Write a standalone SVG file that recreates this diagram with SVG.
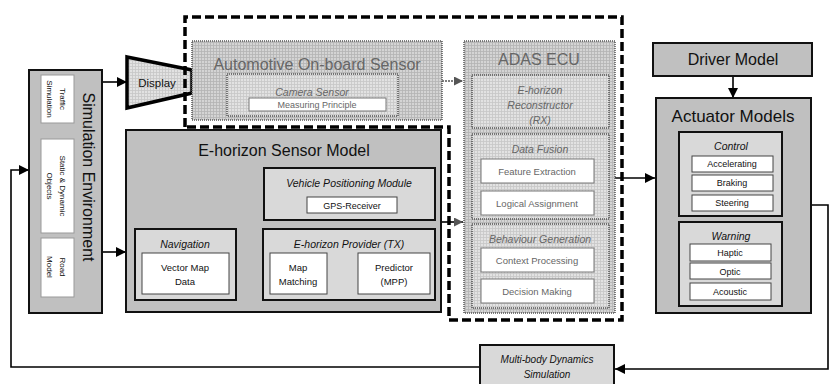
<svg xmlns="http://www.w3.org/2000/svg" width="830" height="384" viewBox="0 0 830 384">
<defs>
<pattern id="gridA" width="3" height="3" patternUnits="userSpaceOnUse">
<rect width="3" height="3" fill="#d4d4d4"/>
<path d="M0 0.5H3M0.5 0V3" stroke="#b4b4b4" stroke-width="0.8"/>
</pattern>
<pattern id="gridB" width="3" height="3" patternUnits="userSpaceOnUse">
<rect width="3" height="3" fill="#e2e2e2"/>
<path d="M0 0.5H3M0.5 0V3" stroke="#c6c6c6" stroke-width="0.8"/>
</pattern>
<marker id="ah" viewBox="0 0 10 10" refX="10" refY="5" markerWidth="10" markerHeight="10" markerUnits="userSpaceOnUse" orient="auto">
<path d="M0 0L10 5L0 10z" fill="#000"/>
</marker>
<marker id="ahg" viewBox="0 0 10 10" refX="10" refY="5" markerWidth="9" markerHeight="9" markerUnits="userSpaceOnUse" orient="auto">
<path d="M0 0L10 5L0 10z" fill="#555"/>
</marker>
</defs>
<style>
text{font-family:"Liberation Sans",Arial,sans-serif;fill:#111;text-anchor:middle}
.big{font-size:16px}
.it{font-style:italic;font-size:10.5px}
.sm{font-size:9px}
.xs{font-size:8px}
.gray{fill:#c0c0c0;stroke:#111;stroke-width:2}
.lg{fill:#d9d9d9;stroke:#111;stroke-width:2}
.wh{fill:#fff;stroke:#444;stroke-width:1}
.whs{fill:#fff;stroke:#999;stroke-width:1}
.ga{fill:url(#gridA);stroke:#555;stroke-width:1.5;stroke-dasharray:1 1}
.gb{fill:url(#gridB);stroke:#555;stroke-width:1.5;stroke-dasharray:1 1}
.ft{fill:#666}
.wf{fill:#fff;stroke:#777;stroke-width:1}
.c{fill:none;stroke:#000;stroke-width:1.6}
</style>

<g id="connectors">
<path class="c" d="M102 82H127" marker-end="url(#ah)"/>
<path class="c" d="M102 252H126" marker-end="url(#ah)"/>
<path class="c" d="M480 367H11V170H29" marker-end="url(#ah)"/>
<path class="c" d="M811 205H828V369H615" marker-end="url(#ah)"/>
<path class="c" d="M615 178H655" marker-end="url(#ah)"/>
<path class="c" d="M733 76V98" marker-end="url(#ah)"/>
<path class="c" d="M441 222H463" marker-end="url(#ahg)"/>
<path d="M442 81H463" fill="none" stroke="#555" stroke-width="1.5" stroke-dasharray="2 1" marker-end="url(#ahg)"/>
<path class="c" d="M236 282H263" marker-end="url(#ah)"/>
<path class="c" d="M264 193H247V263H263" marker-end="url(#ah)"/>
<path class="c" d="M327 275H358" marker-end="url(#ah)"/>
</g>

<g id="sim-env">
<rect class="gray" x="29" y="70" width="73" height="243"/>
<text class="big" transform="translate(83,177) rotate(90)">Simulation Environment</text>
<rect class="whs" x="41" y="75" width="33" height="48"/>
<text class="xs" transform="translate(60,99) rotate(90)"><tspan x="0" y="0">Traffic</tspan><tspan x="0" y="13">Simulation</tspan></text>
<rect class="whs" x="41" y="139" width="33" height="94"/>
<text class="xs" transform="translate(60,186) rotate(90)"><tspan x="0" y="0">Static &amp; Dynamic</tspan><tspan x="0" y="13">Objects</tspan></text>
<rect class="whs" x="41" y="238" width="33" height="59"/>
<text class="xs" transform="translate(60,267) rotate(90)"><tspan x="0" y="0">Road</tspan><tspan x="0" y="13">Model</tspan></text>
</g>

<g id="display">
<path d="M127 57L192 70V93L127 108Z" fill="url(#gridB)" stroke="#000" stroke-width="3.5" stroke-linejoin="miter"/>
<text x="157" y="87" style="font-size:11.5px">Display</text>
</g>

<g id="dashed-region">
<path d="M185 127V17H622V320H449V127Z" fill="none" stroke="#000" stroke-width="3.5" stroke-dasharray="9 4"/>
</g>

<g id="onboard-sensor">
<rect class="ga" x="192" y="41" width="250" height="79"/>
<text class="big ft" x="317" y="70">Automotive On-board Sensor</text>
<rect class="gb" x="227" y="74" width="171" height="42"/>
<text class="it ft" x="312" y="96">Camera Sensor</text>
<rect class="wf" x="249" y="98" width="137" height="13"/>
<text class="sm ft" x="317" y="108">Measuring Principle</text>
</g>

<g id="adas-ecu">
<rect class="ga" x="464" y="41" width="151" height="272"/>
<text class="big ft" x="539" y="65">ADAS ECU</text>
<rect class="gb" x="472" y="75" width="137" height="53"/>
<text class="it ft" x="540" y="94"><tspan x="540" y="94">E-horizon</tspan><tspan x="540" y="109">Reconstructor</tspan><tspan x="540" y="124">(RX)</tspan></text>
<rect class="gb" x="472" y="134" width="137" height="85"/>
<text class="it ft" x="540" y="153">Data Fusion</text>
<rect class="wf" x="481" y="159" width="113" height="24"/>
<text class="sm ft" x="537" y="175" style="font-size:9.5px">Feature Extraction</text>
<rect class="wf" x="481" y="191" width="113" height="24"/>
<text class="sm ft" x="537" y="207" style="font-size:9.5px">Logical Assignment</text>
<rect class="gb" x="472" y="224" width="137" height="84"/>
<text class="it ft" x="540" y="243">Behaviour Generation</text>
<rect class="wf" x="481" y="248" width="113" height="24"/>
<text class="sm ft" x="537" y="264" style="font-size:9.5px">Context Processing</text>
<rect class="wf" x="481" y="279" width="113" height="24"/>
<text class="sm ft" x="537" y="295" style="font-size:9.5px">Decision Making</text>
</g>

<g id="ehorizon-sensor-model">
<rect class="gray" x="126" y="130" width="315" height="182"/>
<text class="big" x="284" y="156">E-horizon Sensor Model</text>
<rect class="lg" x="264" y="168" width="171" height="52"/>
<text class="it" x="349" y="187">Vehicle Positioning Module</text>
<rect class="wh" x="307" y="197" width="90" height="16"/>
<text class="sm" x="352" y="208.5">GPS-Receiver</text>
<rect class="lg" x="135" y="229" width="101" height="71"/>
<text class="it" x="185" y="248">Navigation</text>
<rect class="wh" x="142" y="253" width="87" height="41"/>
<text class="sm" x="185" y="271" style="font-size:9.5px"><tspan x="185" y="271">Vector Map</tspan><tspan x="185" y="285">Data</tspan></text>
<rect class="lg" x="263" y="229" width="172" height="71"/>
<text class="it" x="349" y="248">E-horizon Provider (TX)</text>
<rect class="wh" x="270" y="253" width="57" height="41"/>
<text class="sm" x="298" y="271" style="font-size:9.5px"><tspan x="298" y="271">Map</tspan><tspan x="298" y="285">Matching</tspan></text>
<rect class="wh" x="358" y="253" width="72" height="41"/>
<text class="sm" x="394" y="271" style="font-size:9.5px"><tspan x="394" y="271">Predictor</tspan><tspan x="394" y="285">(MPP)</tspan></text>
</g>

<g id="driver-model">
<rect class="gray" x="653" y="43" width="159" height="33"/>
<text class="big" x="733" y="65">Driver Model</text>
</g>

<g id="actuator-models">
<rect class="gray" x="656" y="98" width="155" height="215"/>
<text class="big" x="733" y="122" style="font-size:17px">Actuator Models</text>
<rect class="lg" x="679" y="132" width="103" height="84"/>
<text class="it" x="731" y="150">Control</text>
<rect class="wh" x="692" y="156" width="81" height="16"/>
<text class="sm" x="732" y="167">Accelerating</text>
<rect class="wh" x="692" y="175" width="81" height="16"/>
<text class="sm" x="732" y="186">Braking</text>
<rect class="wh" x="692" y="195" width="81" height="16"/>
<text class="sm" x="732" y="206">Steering</text>
<rect class="lg" x="679" y="222" width="103" height="84"/>
<text class="it" x="731" y="240">Warning</text>
<rect class="wh" x="690" y="244" width="81" height="17"/>
<text class="sm" x="730" y="256">Haptic</text>
<rect class="wh" x="690" y="263" width="81" height="16"/>
<text class="sm" x="730" y="275">Optic</text>
<rect class="wh" x="690" y="283" width="81" height="17"/>
<text class="sm" x="730" y="295">Acoustic</text>
</g>

<g id="multibody">
<rect class="lg" x="480" y="345" width="134" height="45"/>
<text class="it" x="547" y="363" style="font-size:10px"><tspan x="547" y="363">Multi-body Dynamics</tspan><tspan x="547" y="378">Simulation</tspan></text>
</g>
</svg>
